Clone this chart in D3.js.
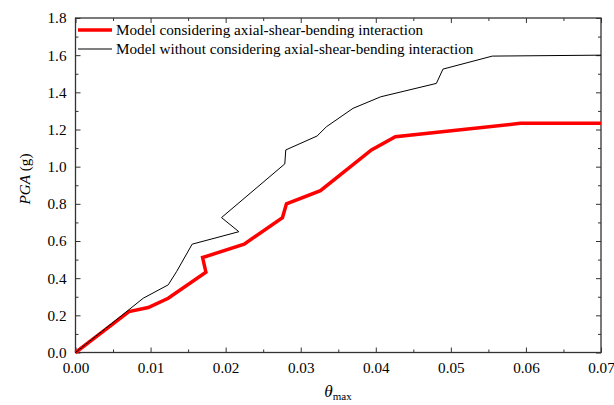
<!DOCTYPE html>
<html>
<head>
<meta charset="utf-8">
<script src="https://cdn.jsdelivr.net/npm/d3@7"></script>
<style>
  html, body { margin: 0; padding: 0; background: #fff; }
  svg { display: block; font-family: "Liberation Serif", "Times New Roman", serif; }
  svg text { font-family: "Liberation Serif", "Times New Roman", serif; }
</style>
</head>
<body>
<svg id="chart" width="614" height="405"></svg>
<script>
// Drift ratio (theta_max) vs PGA, two numerical models
const withInteractionTheta = [0, 0.00712, 0.00969, 0.01235, 0.01737, 0.01693, 0.02247, 0.02757, 0.0281, 0.03263, 0.03942, 0.04261, 0.05925, 0.07];
const withInteractionPGA   = [0, 0.22, 0.242, 0.292, 0.432, 0.511, 0.583, 0.726, 0.80, 0.871, 1.09, 1.161, 1.233, 1.233];

const withoutInteractionTheta = [0, 0.00902, 0.01235, 0.01346, 0.01554, 0.02176, 0.01945, 0.02788, 0.02801, 0.03218, 0.03343, 0.03697, 0.04066, 0.04807, 0.04895, 0.05552, 0.07];
const withoutInteractionPGA   = [0, 0.292, 0.364, 0.435, 0.583, 0.65, 0.726, 1.015, 1.09, 1.165, 1.215, 1.314, 1.376, 1.448, 1.525, 1.595, 1.60];

const seriesNames = [
  "Model considering axial-shear-bending interaction",
  "Model without considering axial-shear-bending interaction"
];

const xTickValues = [0, 0.01, 0.02, 0.03, 0.04, 0.05, 0.06, 0.07];
const yTickValues = [0, 0.2, 0.4, 0.6, 0.8, 1.0, 1.2, 1.4, 1.6, 1.8];

const svg = d3.select("#chart");
const m = { left: 75.5, right: 601, top: 18, bottom: 352.5 };

const x = d3.scaleLinear().domain([0, 0.07]).range([m.left, m.right]);
const y = d3.scaleLinear().domain([0, 1.8]).range([m.bottom, m.top]);

const axisColor = "#333";
const fontSize = 15.2;
const serif = '"Liberation Serif", "Times New Roman", serif';

// minor ticks halfway between majors
const xMinor = d3.range(0.005, 0.07, 0.01);
const yMinor = d3.range(0.1, 1.8, 0.2);

function styleAxis(g) {
  g.attr("font-family", serif).attr("font-size", fontSize);
  g.select(".domain").remove();
  g.selectAll("line").attr("stroke", axisColor).attr("stroke-width", 1);
  g.selectAll("text").attr("fill", "#000");
}

// bottom axis (ticks pointing inward)
svg.append("g").attr("transform", `translate(0,${m.bottom})`)
  .call(d3.axisBottom(x).tickValues(xTickValues).tickFormat(d3.format(".2f")).tickSizeInner(-5).tickSizeOuter(0).tickPadding(10))
  .call(styleAxis);
svg.append("g").attr("transform", `translate(0,${m.bottom})`)
  .call(d3.axisBottom(x).tickValues(xMinor).tickFormat("").tickSizeInner(-3).tickSizeOuter(0))
  .call(styleAxis);
// top axis
svg.append("g").attr("transform", `translate(0,${m.top})`)
  .call(d3.axisTop(x).tickValues(xTickValues).tickFormat("").tickSizeInner(-5).tickSizeOuter(0))
  .call(styleAxis);
svg.append("g").attr("transform", `translate(0,${m.top})`)
  .call(d3.axisTop(x).tickValues(xMinor).tickFormat("").tickSizeInner(-3).tickSizeOuter(0))
  .call(styleAxis);
// left axis
svg.append("g").attr("transform", `translate(${m.left},0)`)
  .call(d3.axisLeft(y).tickValues(yTickValues).tickFormat(d3.format(".1f")).tickSizeInner(-5).tickSizeOuter(0).tickPadding(9))
  .call(styleAxis);
svg.append("g").attr("transform", `translate(${m.left},0)`)
  .call(d3.axisLeft(y).tickValues(yMinor).tickFormat("").tickSizeInner(-3).tickSizeOuter(0))
  .call(styleAxis);
// right axis
svg.append("g").attr("transform", `translate(${m.right},0)`)
  .call(d3.axisRight(y).tickValues(yTickValues).tickFormat("").tickSizeInner(-5).tickSizeOuter(0))
  .call(styleAxis);
svg.append("g").attr("transform", `translate(${m.right},0)`)
  .call(d3.axisRight(y).tickValues(yMinor).tickFormat("").tickSizeInner(-3).tickSizeOuter(0))
  .call(styleAxis);

// frame
svg.append("rect")
  .attr("x", m.left).attr("y", m.top)
  .attr("width", m.right - m.left).attr("height", m.bottom - m.top)
  .attr("fill", "none").attr("stroke", axisColor).attr("stroke-width", 1.3);

const line = d3.line().x(d => x(d[0])).y(d => y(d[1]));

const redData = d3.zip(withInteractionTheta, withInteractionPGA);
const blackData = d3.zip(withoutInteractionTheta, withoutInteractionPGA);

svg.append("path").datum(redData)
  .attr("d", line).attr("fill", "none")
  .attr("stroke", "#ff0000").attr("stroke-width", 3.5).attr("stroke-linejoin", "miter");
svg.append("path").datum(blackData)
  .attr("d", line).attr("fill", "none")
  .attr("stroke", "#000").attr("stroke-width", 1).attr("stroke-linejoin", "miter");

// legend
const legend = svg.append("g").attr("font-family", serif);
const legendItems = [
  { name: seriesNames[0], color: "#ff0000", width: 3.5, y: 30 },
  { name: seriesNames[1], color: "#000", width: 1, y: 49 }
];
legendItems.forEach(it => {
  legend.append("line").attr("x1", 78).attr("x2", 112).attr("y1", it.y).attr("y2", it.y)
    .attr("stroke", it.color).attr("stroke-width", it.width);
  legend.append("text").attr("x", 116).attr("y", it.y + 5)
    .attr("font-size", fontSize).text(it.name);
});

// axis titles
const yTitle = svg.append("text")
  .attr("transform", `translate(30,179) rotate(-90)`)
  .attr("text-anchor", "middle").attr("font-size", fontSize);
yTitle.append("tspan").attr("font-style", "italic").text("PGA");
yTitle.append("tspan").text(" (g)");

const xTitle = svg.append("text")
  .attr("x", 338).attr("y", 397)
  .attr("text-anchor", "middle").attr("font-size", fontSize + 2);
xTitle.append("tspan").attr("font-style", "italic").text("θ");
xTitle.append("tspan").attr("font-size", 11).attr("dy", 3).text("max");
</script>
</body>
</html>
